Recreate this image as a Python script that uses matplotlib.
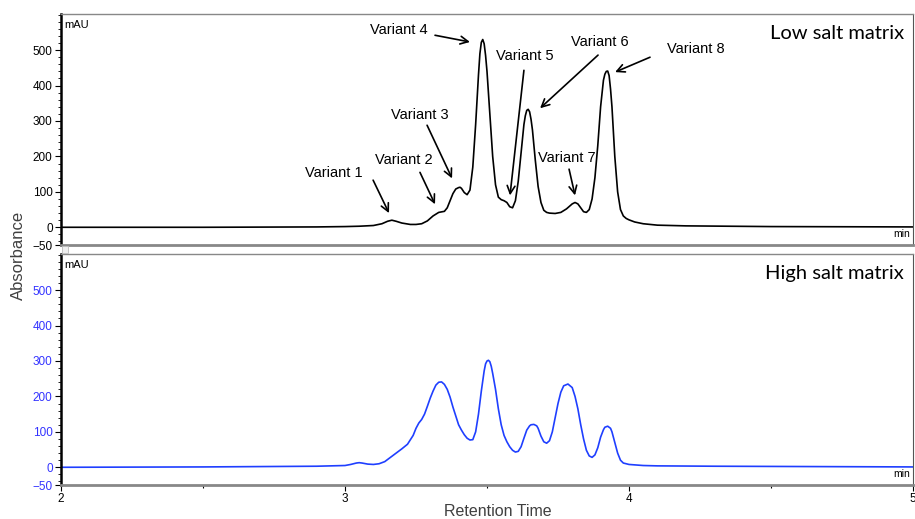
import numpy as np
import matplotlib
matplotlib.use('Agg')
import matplotlib.pyplot as plt
from matplotlib.ticker import MultipleLocator, FixedLocator
from matplotlib.patches import Rectangle

# Low salt matrix trace (retention time in min, absorbance in mAU)
low_time = [2.00, 2.50, 2.90, 3.00, 3.05, 3.10, 3.13, 3.15, 3.165, 3.18, 3.20, 3.23, 3.25,
            3.27, 3.29, 3.31, 3.33, 3.35, 3.36, 3.37, 3.38, 3.39, 3.40, 3.405, 3.41, 3.42, 3.43,
            3.44, 3.45, 3.46, 3.47, 3.475, 3.48, 3.485, 3.49, 3.495, 3.50, 3.51, 3.52, 3.53,
            3.54, 3.55, 3.56, 3.57, 3.58, 3.59, 3.60, 3.61, 3.62, 3.63, 3.635, 3.64, 3.645,
            3.65, 3.655, 3.66, 3.67, 3.68, 3.69, 3.70, 3.71, 3.72, 3.74, 3.76, 3.78, 3.80,
            3.81, 3.82, 3.83, 3.84, 3.85, 3.86, 3.87, 3.88, 3.89, 3.90, 3.91, 3.915, 3.92,
            3.925, 3.93, 3.935, 3.94, 3.95, 3.96, 3.97, 3.98, 3.99, 4.00, 4.02, 4.05, 4.10,
            4.20, 4.50, 5.00]
low_abs = [0, 0, 1, 2, 3, 5, 10, 17, 20, 17, 12, 8, 8,
           10, 18, 32, 42, 45, 55, 75, 95, 108, 112, 113, 110, 98, 92,
           105, 170, 290, 430, 490, 522, 530, 518, 485, 440, 320, 200, 120,
           85, 78, 75, 70, 58, 55, 75, 130, 210, 290, 315, 330, 333,
           326, 305, 275, 190, 115, 70, 48, 42, 40, 39, 42, 52, 66,
           70, 66, 55, 44, 42, 50, 80, 140, 230, 340, 415, 432, 440,
           441, 428, 390, 340, 200, 100, 50, 32, 25, 21, 15, 10, 6,
           4, 2, 1]

# High salt matrix trace
high_time = [2.00, 2.50, 2.90, 3.00, 3.02, 3.04, 3.05, 3.06, 3.08, 3.10, 3.12, 3.14, 3.16,
             3.18, 3.20, 3.22, 3.24, 3.25, 3.26, 3.27, 3.28, 3.29, 3.30, 3.31, 3.32, 3.33,
             3.34, 3.35, 3.36, 3.37, 3.38, 3.39, 3.40, 3.41, 3.42, 3.43, 3.44, 3.45, 3.46,
             3.47, 3.48, 3.49, 3.495, 3.50, 3.505, 3.51, 3.515, 3.52, 3.53, 3.54, 3.55, 3.56,
             3.57, 3.58, 3.59, 3.60, 3.61, 3.62, 3.63, 3.64, 3.65, 3.655, 3.665, 3.675, 3.68,
             3.69, 3.70, 3.71, 3.72, 3.73, 3.74, 3.75, 3.76, 3.77, 3.785, 3.80, 3.81, 3.82,
             3.83, 3.84, 3.85, 3.86, 3.87, 3.88, 3.89, 3.90, 3.91, 3.915, 3.925, 3.935, 3.94,
             3.95, 3.96, 3.97, 3.98, 4.00, 4.05, 4.10, 4.30, 5.00]
high_abs = [0, 1, 3, 5, 8, 12, 13, 12, 9, 8, 10, 16, 28,
            40, 52, 65, 90, 110, 125, 135, 150, 172, 195, 215, 232, 240,
            241, 234, 220, 198, 170, 145, 120, 105, 92, 82, 77, 78, 100,
            150, 215, 272, 292, 300, 302, 298, 285, 265, 220, 165, 120, 90,
            72, 58, 48, 43, 45, 58, 82, 105, 117, 120, 121, 117, 110,
            88, 72, 68, 75, 100, 140, 180, 212, 230, 235, 225, 200, 165,
            120, 80, 48, 32, 28, 35, 55, 85, 106, 113, 116, 110, 100,
            70, 40, 20, 12, 8, 5, 4, 3, 1]

# Peak labels: (label, text pos, arrow tail, arrow head) in (min, mAU)
variant_labels = ['Variant 1', 'Variant 2', 'Variant 3', 'Variant 4',
                  'Variant 5', 'Variant 6', 'Variant 7', 'Variant 8']
label_pos = [(2.961, 152), (3.208, 189), (3.264, 316), (3.190, 556),
             (3.634, 483), (3.898, 523), (3.782, 195), (4.236, 503)]
arrow_tail = [(3.099, 133), (3.264, 155), (3.289, 288), (3.317, 542),
              (3.630, 443), (3.891, 486), (3.789, 164), (4.074, 480)]
arrow_head = [(3.155, 40), (3.317, 65), (3.377, 138), (3.440, 523),
              (3.581, 90), (3.687, 336), (3.810, 90), (3.951, 438)]

plt.rcParams['font.family'] = ['Liberation Sans', 'DejaVu Sans']

W, H = 915, 519
fig = plt.figure(figsize=(W / 100, H / 100), dpi=100)

ax_top = fig.add_axes([61 / W, 1 - 245 / H, 852 / W, 231 / H])
ax_bot = fig.add_axes([61 / W, 1 - 485 / H, 852 / W, 231 / H])


def style_panel(ax, tick_color):
    ax.set_xlim(2, 5)
    ax.set_ylim(-50, 602)
    ax.yaxis.set_major_locator(FixedLocator([-50, 0, 100, 200, 300, 400, 500]))
    ax.yaxis.set_minor_locator(MultipleLocator(20))
    ax.tick_params(axis='y', which='major', length=4, width=0.8, labelsize=8.5,
                   labelcolor=tick_color, pad=2)
    ax.tick_params(axis='y', which='minor', length=2, width=0.6)
    ax.spines['left'].set_linewidth(1.8)
    ax.spines['left'].set_color('black')
    ax.spines['top'].set_color('#888888')
    ax.spines['top'].set_linewidth(1.0)
    ax.spines['right'].set_color('#555555')
    ax.spines['right'].set_linewidth(0.8)
    ax.spines['bottom'].set_color('#888888')
    ax.spines['bottom'].set_linewidth(2.0)
    ax.text(0.004, 0.975, 'mAU', transform=ax.transAxes, fontsize=8,
            ha='left', va='top')
    ax.text(0.996, 0.025, 'min', transform=ax.transAxes, fontsize=7.5,
            ha='right', va='bottom')


style_panel(ax_top, 'black')
style_panel(ax_bot, '#3333ff')

ax_top.plot(low_time, low_abs, color='black', lw=1.2)
ax_bot.plot(high_time, high_abs, color='#1f3fff', lw=1.2)

ax_top.set_xticks([])
ax_bot.xaxis.set_major_locator(MultipleLocator(1))
ax_bot.xaxis.set_minor_locator(MultipleLocator(0.5))
ax_bot.tick_params(axis='x', which='major', length=4, width=0.8, labelsize=8.5, pad=2)
ax_bot.tick_params(axis='x', which='minor', length=2, width=0.8)

for lab, tp, tail, head in zip(variant_labels, label_pos, arrow_tail, arrow_head):
    ax_top.text(tp[0], tp[1], lab, fontsize=10.5, ha='center', va='center')
    ax_top.annotate('', xy=head, xytext=tail,
                    arrowprops=dict(arrowstyle='->', color='black', lw=1.2,
                                    mutation_scale=14, shrinkA=0, shrinkB=0))

ax_top.text(0.989, 0.915, 'Low salt matrix', transform=ax_top.transAxes,
            fontsize=14.5, family=['Lato', 'DejaVu Sans'], ha='right', va='center')
ax_bot.text(0.989, 0.915, 'High salt matrix', transform=ax_bot.transAxes,
            fontsize=14.5, family=['Lato', 'DejaVu Sans'], ha='right', va='center')

# small scroll marker between the panels
fig.patches.append(Rectangle((62 / W, 1 - 253 / H), 6 / W, 7 / H,
                             transform=fig.transFigure, facecolor='#eeeeee',
                             edgecolor='#bbbbbb', lw=0.6))

fig.text(18 / W, 1 - 255 / H, 'Absorbance', rotation=90, fontsize=12,
         color='#404040', ha='center', va='center')
fig.text(498 / W, 1 - 511 / H, 'Retention Time', fontsize=11.5,
         color='#404040', ha='center', va='center')

fig.savefig('out.png', dpi=100)
